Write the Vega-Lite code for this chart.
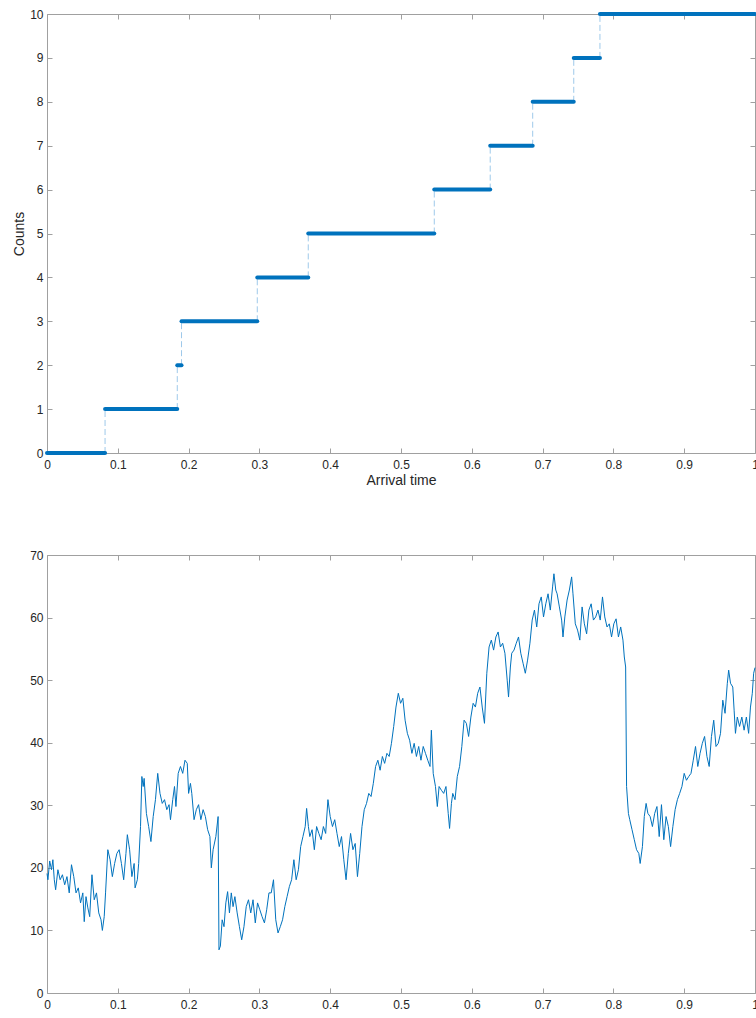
{
  "$schema": "https://vega.github.io/schema/vega-lite/v6.json",
  "padding": {"left": 12, "top": 8, "right": 0, "bottom": 0},
  "spacing": 62,
  "config": {
    "view": {"stroke": null},
    "axis": {
      "domainColor": "#a0a0a0",
      "tickColor": "#a0a0a0",
      "tickSize": -5,
      "labelColor": "#262626",
      "labelFont": "Liberation Sans",
      "labelFontSize": 12,
      "titleFont": "Liberation Sans",
      "titleFontSize": 14,
      "titleFontWeight": "normal",
      "titleColor": "#262626",
      "grid": false,
      "labelFlush": false,
      "format": ".6~g"
    },
    "axisX": {"labelPadding": 11},
    "axisY": {"labelPadding": 9}
  },
  "datasets": {
    "steps": [
      {"a": 0, "b": 0.082, "n": 0},
      {"a": 0.082, "b": 0.184, "n": 1},
      {"a": 0.184, "b": 0.19, "n": 2},
      {"a": 0.19, "b": 0.297, "n": 3},
      {"a": 0.297, "b": 0.369, "n": 4},
      {"a": 0.369, "b": 0.547, "n": 5},
      {"a": 0.547, "b": 0.626, "n": 6},
      {"a": 0.626, "b": 0.686, "n": 7},
      {"a": 0.686, "b": 0.744, "n": 8},
      {"a": 0.744, "b": 0.781, "n": 9},
      {"a": 0.781, "b": 1, "n": 10}
    ],
    "jumps": [
      {"t": 0.082, "lo": 0, "hi": 1},
      {"t": 0.184, "lo": 1, "hi": 2},
      {"t": 0.19, "lo": 2, "hi": 3},
      {"t": 0.297, "lo": 3, "hi": 4},
      {"t": 0.369, "lo": 4, "hi": 5},
      {"t": 0.547, "lo": 5, "hi": 6},
      {"t": 0.626, "lo": 6, "hi": 7},
      {"t": 0.686, "lo": 7, "hi": 8},
      {"t": 0.744, "lo": 8, "hi": 9},
      {"t": 0.781, "lo": 9, "hi": 10}
    ],
    "walk": [
      {"t":0,"v":19.1},{"t":0.0013,"v":18.1},{"t":0.0038,"v":21.1},{"t":0.0064,"v":19.7},{"t":0.0083,"v":21.3},{"t":0.0103,"v":18.1},{"t":0.0122,"v":16.5},{"t":0.0154,"v":19.7},{"t":0.0186,"v":18.1},{"t":0.0218,"v":18.9},{"t":0.025,"v":17.3},{"t":0.0282,"v":18.6},{"t":0.0314,"v":16.0},{"t":0.0346,"v":20.5},{"t":0.0378,"v":18.6},{"t":0.041,"v":16.0},{"t":0.0442,"v":16.8},{"t":0.0474,"v":14.4},{"t":0.0506,"v":16.0},{"t":0.0526,"v":11.4},{"t":0.0551,"v":15.4},{"t":0.0577,"v":13.6},{"t":0.0603,"v":12.2},{"t":0.0635,"v":18.9},{"t":0.0667,"v":14.9},{"t":0.0699,"v":16.0},{"t":0.0731,"v":12.8},{"t":0.0763,"v":11.7},{"t":0.0782,"v":10.0},{"t":0.0808,"v":12.2},{"t":0.0827,"v":16.0},{"t":0.0859,"v":22.9},{"t":0.0891,"v":21.3},{"t":0.0923,"v":18.6},{"t":0.0955,"v":20.7},{"t":0.0987,"v":22.3},{"t":0.1019,"v":22.9},{"t":0.1051,"v":20.7},{"t":0.1083,"v":18.1},{"t":0.1115,"v":22.3},{"t":0.1135,"v":25.3},{"t":0.1167,"v":22.9},{"t":0.1199,"v":18.6},{"t":0.1231,"v":20.7},{"t":0.1244,"v":16.8},{"t":0.1276,"v":18.1},{"t":0.1295,"v":20.7},{"t":0.1321,"v":26.6},{"t":0.134,"v":34.6},{"t":0.1359,"v":33.0},{"t":0.1372,"v":34.3},{"t":0.1404,"v":28.7},{"t":0.1436,"v":26.6},{"t":0.1468,"v":24.2},{"t":0.15,"v":28.2},{"t":0.1532,"v":30.9},{"t":0.1564,"v":35.1},{"t":0.1596,"v":31.9},{"t":0.1628,"v":30.3},{"t":0.166,"v":30.9},{"t":0.1692,"v":29.3},{"t":0.1724,"v":30.1},{"t":0.1744,"v":27.7},{"t":0.1776,"v":30.9},{"t":0.1801,"v":33.0},{"t":0.1821,"v":29.8},{"t":0.1853,"v":35.1},{"t":0.1885,"v":36.2},{"t":0.1917,"v":35.1},{"t":0.1949,"v":37.2},{"t":0.1981,"v":36.7},{"t":0.2,"v":31.9},{"t":0.2026,"v":33.5},{"t":0.2045,"v":31.9},{"t":0.2077,"v":27.7},{"t":0.2109,"v":29.3},{"t":0.2141,"v":30.1},{"t":0.2173,"v":27.7},{"t":0.2205,"v":29.3},{"t":0.2237,"v":28.2},{"t":0.2269,"v":26.1},{"t":0.2301,"v":25.0},{"t":0.2321,"v":20.0},{"t":0.2346,"v":22.9},{"t":0.2385,"v":25.0},{"t":0.2417,"v":28.2},{"t":0.2429,"v":6.9},{"t":0.2449,"v":7.5},{"t":0.2474,"v":11.7},{"t":0.25,"v":10.6},{"t":0.2526,"v":14.4},{"t":0.2551,"v":16.2},{"t":0.2577,"v":12.8},{"t":0.2603,"v":16.0},{"t":0.2628,"v":13.8},{"t":0.2654,"v":15.4},{"t":0.2686,"v":12.8},{"t":0.2718,"v":10.6},{"t":0.275,"v":8.5},{"t":0.2782,"v":10.6},{"t":0.2814,"v":13.8},{"t":0.2846,"v":14.9},{"t":0.2878,"v":12.8},{"t":0.291,"v":14.9},{"t":0.2942,"v":11.2},{"t":0.2974,"v":14.4},{"t":0.3006,"v":13.3},{"t":0.3038,"v":12.2},{"t":0.3071,"v":11.2},{"t":0.3103,"v":13.3},{"t":0.3135,"v":16.0},{"t":0.3167,"v":16.0},{"t":0.3199,"v":18.1},{"t":0.3231,"v":11.7},{"t":0.3263,"v":9.6},{"t":0.3295,"v":10.6},{"t":0.3327,"v":11.7},{"t":0.3359,"v":13.8},{"t":0.3391,"v":15.4},{"t":0.3423,"v":17.0},{"t":0.3455,"v":18.1},{"t":0.3487,"v":21.3},{"t":0.3519,"v":18.1},{"t":0.3551,"v":19.7},{"t":0.3583,"v":23.4},{"t":0.3615,"v":25.0},{"t":0.3647,"v":26.6},{"t":0.3667,"v":29.5},{"t":0.3692,"v":26.6},{"t":0.3712,"v":25.0},{"t":0.3744,"v":26.1},{"t":0.3776,"v":22.9},{"t":0.3808,"v":26.6},{"t":0.384,"v":25.5},{"t":0.3872,"v":24.5},{"t":0.3904,"v":26.6},{"t":0.3936,"v":25.5},{"t":0.3968,"v":30.9},{"t":0.4,"v":28.2},{"t":0.4032,"v":26.6},{"t":0.4064,"v":27.7},{"t":0.4096,"v":25.5},{"t":0.4128,"v":23.4},{"t":0.416,"v":25.0},{"t":0.4192,"v":21.3},{"t":0.4224,"v":18.1},{"t":0.4256,"v":22.3},{"t":0.4288,"v":25.5},{"t":0.4321,"v":22.9},{"t":0.4353,"v":23.9},{"t":0.4385,"v":18.6},{"t":0.4417,"v":22.3},{"t":0.4449,"v":26.6},{"t":0.4481,"v":29.3},{"t":0.4513,"v":30.3},{"t":0.4545,"v":31.9},{"t":0.4577,"v":31.4},{"t":0.4609,"v":33.5},{"t":0.4641,"v":36.2},{"t":0.4673,"v":37.2},{"t":0.4705,"v":35.6},{"t":0.4737,"v":37.8},{"t":0.4769,"v":36.7},{"t":0.4801,"v":38.3},{"t":0.4833,"v":37.8},{"t":0.4865,"v":39.9},{"t":0.4897,"v":42.6},{"t":0.4929,"v":45.7},{"t":0.4962,"v":47.9},{"t":0.4994,"v":46.3},{"t":0.5026,"v":47.1},{"t":0.5058,"v":43.6},{"t":0.509,"v":41.5},{"t":0.5122,"v":40.4},{"t":0.5154,"v":38.3},{"t":0.5186,"v":39.9},{"t":0.5218,"v":37.8},{"t":0.525,"v":39.4},{"t":0.5282,"v":37.2},{"t":0.5314,"v":39.4},{"t":0.5346,"v":38.3},{"t":0.5378,"v":37.2},{"t":0.541,"v":36.2},{"t":0.5429,"v":42.0},{"t":0.5455,"v":35.1},{"t":0.5487,"v":33.0},{"t":0.5513,"v":29.8},{"t":0.5538,"v":33.0},{"t":0.5571,"v":32.4},{"t":0.5603,"v":31.9},{"t":0.5635,"v":33.0},{"t":0.5667,"v":28.7},{"t":0.5686,"v":26.3},{"t":0.5712,"v":30.3},{"t":0.5731,"v":31.9},{"t":0.5763,"v":30.9},{"t":0.5795,"v":34.6},{"t":0.5827,"v":36.2},{"t":0.5859,"v":39.4},{"t":0.5891,"v":43.6},{"t":0.5923,"v":43.1},{"t":0.5955,"v":41.0},{"t":0.5987,"v":44.1},{"t":0.6019,"v":46.3},{"t":0.6051,"v":45.7},{"t":0.6083,"v":47.9},{"t":0.6115,"v":48.9},{"t":0.6147,"v":45.7},{"t":0.6179,"v":43.1},{"t":0.6212,"v":51.1},{"t":0.6244,"v":55.3},{"t":0.6276,"v":56.4},{"t":0.6308,"v":54.8},{"t":0.634,"v":56.9},{"t":0.6372,"v":57.7},{"t":0.6404,"v":55.3},{"t":0.6436,"v":55.9},{"t":0.6468,"v":54.3},{"t":0.65,"v":50.0},{"t":0.6519,"v":47.3},{"t":0.6545,"v":52.1},{"t":0.6564,"v":54.3},{"t":0.6596,"v":54.8},{"t":0.6628,"v":55.9},{"t":0.666,"v":56.9},{"t":0.6692,"v":54.3},{"t":0.6724,"v":52.7},{"t":0.6756,"v":51.1},{"t":0.6788,"v":53.2},{"t":0.6821,"v":55.9},{"t":0.6853,"v":59.6},{"t":0.6885,"v":61.2},{"t":0.6917,"v":58.5},{"t":0.6949,"v":62.2},{"t":0.6981,"v":63.3},{"t":0.7013,"v":60.1},{"t":0.7045,"v":62.2},{"t":0.7077,"v":63.8},{"t":0.7109,"v":61.2},{"t":0.7141,"v":64.9},{"t":0.716,"v":67.0},{"t":0.7186,"v":64.4},{"t":0.7205,"v":63.8},{"t":0.7237,"v":61.7},{"t":0.7269,"v":59.6},{"t":0.7288,"v":56.9},{"t":0.7314,"v":60.1},{"t":0.7346,"v":62.8},{"t":0.7378,"v":64.4},{"t":0.741,"v":66.5},{"t":0.7429,"v":63.8},{"t":0.7462,"v":59.0},{"t":0.7494,"v":58.0},{"t":0.7526,"v":56.4},{"t":0.7558,"v":61.7},{"t":0.759,"v":59.0},{"t":0.7622,"v":57.4},{"t":0.7654,"v":61.2},{"t":0.7686,"v":62.2},{"t":0.7718,"v":59.6},{"t":0.775,"v":60.1},{"t":0.7782,"v":61.2},{"t":0.7814,"v":59.6},{"t":0.7846,"v":63.3},{"t":0.7878,"v":60.1},{"t":0.791,"v":58.5},{"t":0.7942,"v":59.0},{"t":0.7974,"v":56.9},{"t":0.8006,"v":59.0},{"t":0.8038,"v":59.8},{"t":0.8071,"v":56.9},{"t":0.8103,"v":58.5},{"t":0.8135,"v":56.4},{"t":0.8154,"v":53.7},{"t":0.8173,"v":52.1},{"t":0.8186,"v":33.0},{"t":0.8212,"v":28.7},{"t":0.8231,"v":27.7},{"t":0.8263,"v":26.1},{"t":0.8295,"v":24.5},{"t":0.8327,"v":22.9},{"t":0.8359,"v":22.3},{"t":0.8378,"v":20.7},{"t":0.841,"v":23.4},{"t":0.8436,"v":28.2},{"t":0.8462,"v":30.3},{"t":0.8487,"v":28.7},{"t":0.8519,"v":28.2},{"t":0.8551,"v":26.6},{"t":0.8583,"v":28.7},{"t":0.8615,"v":29.8},{"t":0.8647,"v":25.0},{"t":0.8679,"v":30.1},{"t":0.8712,"v":24.5},{"t":0.8744,"v":28.2},{"t":0.8776,"v":26.6},{"t":0.8808,"v":23.4},{"t":0.884,"v":26.6},{"t":0.8872,"v":29.3},{"t":0.8904,"v":30.9},{"t":0.8936,"v":31.9},{"t":0.8968,"v":33.0},{"t":0.9,"v":35.1},{"t":0.9032,"v":34.0},{"t":0.9064,"v":34.6},{"t":0.9096,"v":35.1},{"t":0.9128,"v":37.2},{"t":0.916,"v":39.4},{"t":0.9192,"v":36.2},{"t":0.9224,"v":38.3},{"t":0.9256,"v":39.9},{"t":0.9288,"v":41.0},{"t":0.9321,"v":37.8},{"t":0.9353,"v":36.2},{"t":0.9385,"v":41.0},{"t":0.9417,"v":43.6},{"t":0.9449,"v":39.4},{"t":0.9481,"v":39.9},{"t":0.9513,"v":41.5},{"t":0.9545,"v":46.8},{"t":0.9577,"v":44.7},{"t":0.9609,"v":49.5},{"t":0.9628,"v":51.6},{"t":0.9654,"v":49.5},{"t":0.9686,"v":48.9},{"t":0.9705,"v":45.2},{"t":0.9724,"v":41.5},{"t":0.975,"v":44.1},{"t":0.9782,"v":42.6},{"t":0.9814,"v":44.1},{"t":0.9846,"v":42.0},{"t":0.9878,"v":44.1},{"t":0.991,"v":41.5},{"t":0.9936,"v":45.7},{"t":0.9962,"v":47.9},{"t":0.9981,"v":51.1},{"t":1.0,"v":52.0}
    ]
  },
  "vconcat": [
    {
      "width": 708,
      "height": 439,
      "resolve": {"axis": {"x": "independent", "y": "independent"}},
      "layer": [
        {
          "data": {"name": "jumps"},
          "mark": {"type": "rule", "color": "#9ec9ea", "strokeWidth": 1, "strokeDash": [6, 3]},
          "encoding": {
            "x": {"field": "t", "type": "quantitative", "scale": {"domain": [0, 1]},
              "axis": {"values": [0,0.1,0.2,0.3,0.4,0.5,0.6,0.7,0.8,0.9,1], "title": "Arrival time", "titlePadding": 3}},
            "y": {"field": "lo", "type": "quantitative", "scale": {"domain": [0, 10]},
              "axis": {"values": [0,1,2,3,4,5,6,7,8,9,10], "title": "Counts", "titlePadding": 3}},
            "y2": {"field": "hi"}
          }
        },
        {
          "data": {"name": "steps"},
          "mark": {"type": "rule", "color": "#0072BD", "strokeWidth": 4, "strokeCap": "round"},
          "encoding": {
            "x": {"field": "a", "type": "quantitative", "axis": null},
            "x2": {"field": "b"},
            "y": {"field": "n", "type": "quantitative", "axis": null}
          }
        },
        {
          "data": {"name": "steps"},
          "mark": {"type": "point", "opacity": 0},
          "encoding": {
            "x": {"field": "a", "type": "quantitative",
              "axis": {"orient": "top", "labels": false, "title": null, "values": [0,0.1,0.2,0.3,0.4,0.5,0.6,0.7,0.8,0.9,1]}},
            "y": {"field": "n", "type": "quantitative",
              "axis": {"orient": "right", "labels": false, "title": null, "values": [0,1,2,3,4,5,6,7,8,9,10]}}
          }
        }
      ]
    },
    {
      "width": 708,
      "height": 438,
      "resolve": {"axis": {"x": "independent", "y": "independent"}},
      "layer": [
        {
          "data": {"name": "walk"},
          "mark": {"type": "line", "color": "#0072BD", "strokeWidth": 1},
          "encoding": {
            "x": {"field": "t", "type": "quantitative", "scale": {"domain": [0, 1]},
              "axis": {"values": [0,0.1,0.2,0.3,0.4,0.5,0.6,0.7,0.8,0.9,1], "title": null}},
            "y": {"field": "v", "type": "quantitative", "scale": {"domain": [0, 70]},
              "axis": {"values": [0,10,20,30,40,50,60,70], "title": null}}
          }
        },
        {
          "data": {"name": "walk"},
          "mark": {"type": "point", "opacity": 0},
          "encoding": {
            "x": {"field": "t", "type": "quantitative",
              "axis": {"orient": "top", "labels": false, "title": null, "values": [0,0.1,0.2,0.3,0.4,0.5,0.6,0.7,0.8,0.9,1]}},
            "y": {"field": "v", "type": "quantitative",
              "axis": {"orient": "right", "labels": false, "title": null, "values": [0,10,20,30,40,50,60,70]}}
          }
        }
      ]
    }
  ]
}
